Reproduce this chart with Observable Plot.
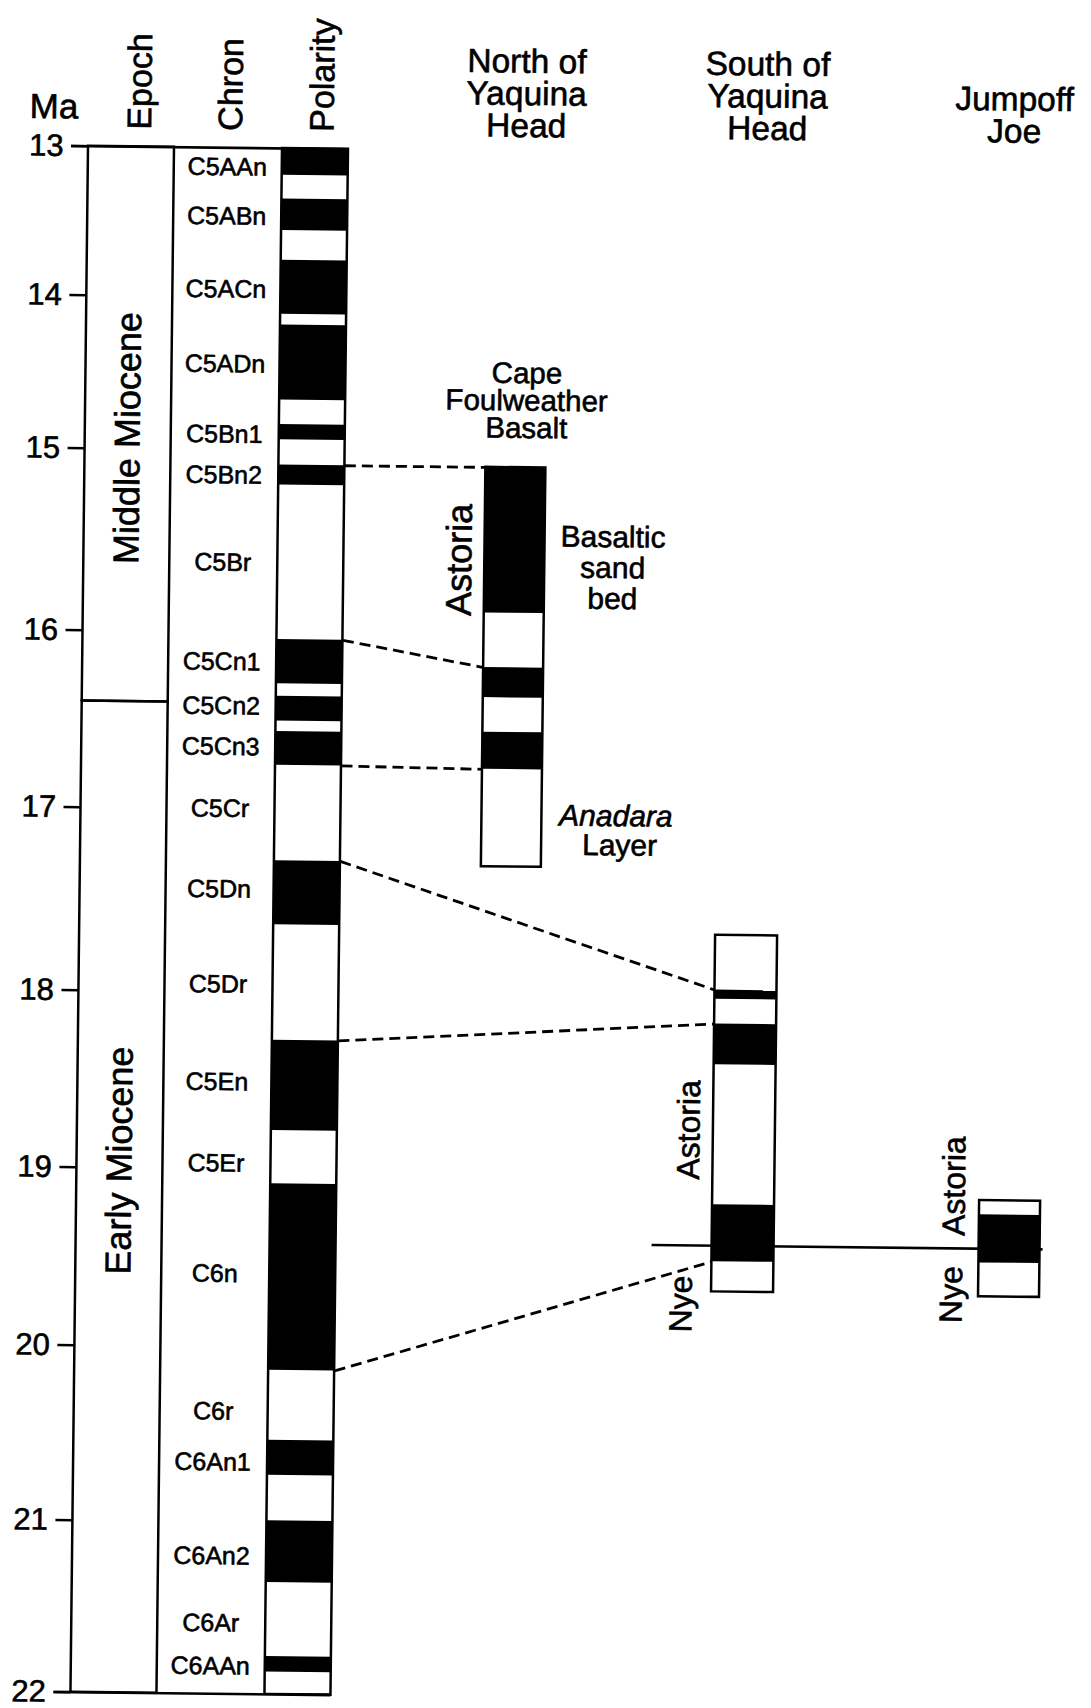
<!DOCTYPE html>
<html>
<head>
<meta charset="utf-8">
<script src="https://cdn.jsdelivr.net/npm/d3@7"></script>
<script src="https://cdn.jsdelivr.net/npm/@observablehq/plot@0.6"></script>
<style>
  html, body { margin: 0; padding: 0; background: #fff; }
  #chart svg { display: block; transform: rotate(0.65deg); transform-origin: 50% 50%; }
</style>
</head>
<body>
<div id="chart"></div>
<script>
// ---------------- DATA (ages in Ma) ----------------
const maTicks = [13, 14, 15, 16, 17, 18, 19, 20, 21, 22];

const chronNames = ["C5AAn","C5ABn","C5ACn","C5ADn","C5Bn1","C5Bn2","C5Br","C5Cn1","C5Cn2","C5Cn3",
  "C5Cr","C5Dn","C5Dr","C5En","C5Er","C6n","C6r","C6An1","C6An2","C6Ar","C6AAn"];
const chronLabelAge = [13.13,13.46,13.95,14.44,14.90,15.14,15.62,16.17,16.42,16.65,
  17.00,17.44,17.96,18.51,18.97,19.59,20.37,20.66,21.20,21.59,21.84];

// normal-polarity (black) intervals of the time scale
const normalTop  = [13.00,13.34,13.75,14.18,14.83,15.08,16.04,16.36,16.56,17.28,18.27,19.08,20.53,20.99,21.78];
const normalBase = [13.18,13.55,14.11,14.67,14.93,15.19,16.29,16.50,16.75,17.63,18.78,20.13,20.73,21.35,21.87];

const epochNames = ["Middle Miocene", "Early Miocene"];
const epochTop   = [13.0, 16.4];
const epochBase  = [16.4, 22.0];
const epochLabelAge = [14.93, 18.96];

const sectionIds    = ["North", "South", "Jumpoff"];
const sectionTitles = ["North of\nYaquina\nHead", "South of\nYaquina\nHead", "Jumpoff\nJoe"];
const sectionTop    = [15.08, 17.66, 19.13];
const sectionBase   = [17.30, 19.66, 19.67];

// normal-polarity (black) intervals measured in each section
const sectNormalSection = ["North", "North", "North", "South", "South", "South", "Jumpoff"];
const sectNormalTop     = [15.08, 16.185, 16.55, 17.96, 18.15, 19.17, 19.21];
const sectNormalBase    = [15.88, 16.355, 16.76, 18.01, 18.38, 19.49, 19.48];

// correlation tie lines: time-scale age -> section age
const corrSection = ["North", "North", "North", "South", "South", "South"];
const corrFrom    = [15.08, 16.04, 16.75, 17.28, 18.27, 20.13];
const corrTo      = [15.08, 16.185, 16.76, 17.96, 18.15, 19.49];

// Astoria / Nye formation contact
const contactAge = 19.40;

// formation labels
const formationNames   = ["Astoria", "Astoria", "Nye", "Astoria", "Nye"];
const formationSection = ["North", "South", "South", "Jumpoff", "Jumpoff"];
const formationAge     = [15.59, 18.75, 19.73, 19.05, 19.66];

// unit notes
const noteTexts = ["Cape\nFoulweather\nBasalt", "Basaltic\nsand\nbed", "Anadara", "Layer"];
const noteAge   = [14.90, 15.85, 17.07, 17.23];   // baseline of last line
const noteItalic = [false, false, true, false];

// ---------------- LAYOUT (px, not data) ----------------
const yRange = [151, 300, 453, 635, 812, 995, 1172, 1350, 1525, 1697];
const L = {
  tickStart: 63, axis: 80, epochRight: 166, polLeft: 274, polRight: 340,
  tickLabel: 55, maLabel: 45, epochLabel: 123, chronLabel: 219,
  headEpoch: 131.5, headChron: 222.5, headPolarity: 314,
  col: {North: [481, 541], South: [716, 778], Jumpoff: [983, 1044]},
  title: {North: 517.5, South: 758.5, Jumpoff: 1005.5},
  formationX: [456, 692, 686, 958, 956],
  formationSize: [36, 32, 32, 32, 32],
  noteX: [521, 609, 615, 619],
  contactX: [656, 1047]
};
const FONT = '"Liberation Sans", Arial, Helvetica, sans-serif';
const headerAge = 12.885, maAge = 12.814, titleAge = 12.905;
const INK = {stroke: "#000", strokeWidth: 0.6, fill: "#000"}; // slightly heavier text, like the printed figure

// ---------------- TABLES ----------------
const normal = normalTop.map((t, i) => ({top: t, base: normalBase[i]}));
const chrons = chronNames.map((n, i) => ({name: n, age: chronLabelAge[i]}));
const epochs = epochNames.map((n, i) => ({name: n, top: epochTop[i], base: epochBase[i], label: epochLabelAge[i]}));
const sections = sectionIds.map((id, i) => ({id, title: sectionTitles[i], top: sectionTop[i], base: sectionBase[i]}));
const sectNormal = sectNormalSection.map((s, i) => ({section: s, top: sectNormalTop[i], base: sectNormalBase[i]}));
const corr = corrSection.map((s, i) => ({section: s, from: corrFrom[i], to: corrTo[i]}));
const formations = formationNames.map((n, i) => ({name: n, section: formationSection[i], age: formationAge[i], x: L.formationX[i], size: L.formationSize[i]}));
const notes = noteTexts.map((t, i) => ({text: t, age: noteAge[i], x: L.noteX[i], italic: noteItalic[i]}));
const y0 = maTicks[0], y1 = maTicks[maTicks.length - 1];

const plot = Plot.plot({
  width: 1091,
  height: 1708,
  margin: 0,
  style: {fontFamily: FONT, background: "#fff", color: "#000"},
  x: {type: "linear", domain: [0, 1091], range: [0, 1091], axis: null},
  y: {type: "linear", domain: maTicks, range: yRange, axis: null},
  marks: [
    // epoch boxes
    Plot.rect(epochs, {x1: L.axis, x2: L.epochRight, y1: "top", y2: "base", fill: "none", stroke: "#000", strokeWidth: 2.5}),
    // polarity column
    Plot.rect([0], {x1: L.polLeft, x2: L.polRight, y1: y0, y2: y1, fill: "#fff", stroke: "#000", strokeWidth: 2.5}),
    Plot.rect(normal, {x1: L.polLeft, x2: L.polRight, y1: "top", y2: "base", fill: "#000"}),
    // top and bottom frame lines
    Plot.ruleY([y0, y1], {x1: L.tickStart, x2: L.polRight, stroke: "#000", strokeWidth: 2.6}),
    // age ticks and labels
    Plot.ruleY(maTicks, {x1: L.tickStart, x2: L.axis, stroke: "#000", strokeWidth: 2.6}),
    Plot.text(maTicks, {x: L.tickLabel, y: d => d, text: d => String(d), textAnchor: "end", lineAnchor: "middle", fontSize: 31, ...INK}),
    // column headers
    Plot.text(["Ma"], {x: L.maLabel, y: maAge, text: d => d, textAnchor: "middle", lineAnchor: "bottom", fontSize: 35, ...INK}),
    Plot.text(["Epoch", "Chron", "Polarity"], {
      x: d => d === "Epoch" ? L.headEpoch : d === "Chron" ? L.headChron : L.headPolarity,
      y: headerAge, text: d => d, rotate: -90, textAnchor: "start", lineAnchor: "middle", fontSize: 34, ...INK}),
    // epoch names
    Plot.text(epochs, {x: L.epochLabel, y: "label", text: "name", rotate: -90, textAnchor: "middle", lineAnchor: "middle", fontSize: 36, ...INK}),
    // chron names
    Plot.text(chrons, {x: L.chronLabel, y: "age", text: "name", textAnchor: "middle", lineAnchor: "middle", fontSize: 25, ...INK}),
    // correlation tie lines
    Plot.link(corr, {x1: L.polRight, y1: "from", x2: d => L.col[d.section][0], y2: "to", stroke: "#000", strokeWidth: 2.8, strokeDasharray: "11,6"}),
    // sections
    Plot.rect(sections, {x1: d => L.col[d.id][0], x2: d => L.col[d.id][1], y1: "top", y2: "base", fill: "#fff", stroke: "#000", strokeWidth: 2.5}),
    Plot.rect(sectNormal, {x1: d => L.col[d.section][0], x2: d => L.col[d.section][1], y1: "top", y2: "base", fill: "#000"}),
    Plot.ruleY([contactAge], {x1: L.contactX[0], x2: L.contactX[1], stroke: "#000", strokeWidth: 2.6}),
    // section titles
    Plot.text(sections, {x: d => L.title[d.id], y: titleAge, text: "title", textAnchor: "middle", lineAnchor: "bottom", lineHeight: 0.96, fontSize: 33.5, ...INK}),
    // formation names
    Plot.text(formations, {x: "x", y: "age", text: "name", rotate: -90, textAnchor: "middle", lineAnchor: "middle", fontSize: d => d.size, ...INK}),
    // unit notes
    Plot.text([notes[0]], {x: "x", y: "age", text: "text", textAnchor: "middle", lineAnchor: "bottom", lineHeight: 0.93, fontSize: 29.5, ...INK}),
    Plot.text([notes[1]], {x: "x", y: "age", text: "text", textAnchor: "middle", lineAnchor: "bottom", lineHeight: 1.03, fontSize: 30, ...INK}),
    Plot.text([notes[3]], {x: "x", y: "age", text: "text", textAnchor: "middle", lineAnchor: "bottom", fontSize: 30, ...INK}),
    Plot.text([notes[2]], {x: "x", y: "age", text: "text", textAnchor: "middle", lineAnchor: "bottom", fontStyle: "italic", fontSize: 30, ...INK})
  ]
});
document.getElementById("chart").appendChild(plot);
</script>
</body>
</html>
